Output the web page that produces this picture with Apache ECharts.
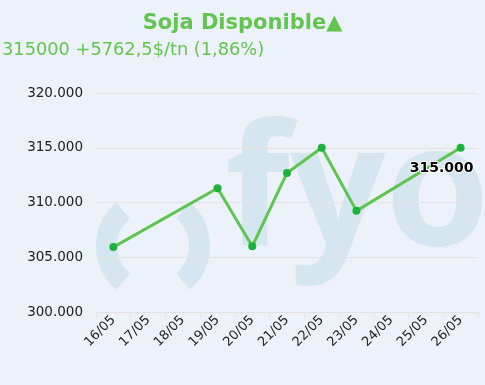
<!DOCTYPE html>
<html><head><meta charset="utf-8">
<script src="https://cdn.jsdelivr.net/npm/echarts@6/dist/echarts.min.js"></script>
<style>html,body{margin:0;padding:0;background:#edf1f9;}#c{width:485px;height:385px;}</style>
</head><body><div id="c"></div>
<script>
var categories = ['16/05','17/05','18/05','19/05','20/05','21/05','22/05','23/05','24/05','25/05','26/05'];
var prices = [305925, null, null, 311300, 306000, 312700, 315000, 309237.5, null, null, 315000];
var titleText = 'Soja Disponible▲';
var subtitleText = '315000 +5762,5$/tn (1,86%)';
var lastLabel = '315.000';

function fmt(v){ return String(v).replace(/\B(?=(\d{3})+(?!\d))/g,'.'); }

var chart = echarts.init(document.getElementById('c'));
var ff = 'DejaVu Sans';
var wm = '#d5e6f0';
chart.setOption({
  backgroundColor: '#edf1f9',
  animation: false,
  title: [
    {text: titleText, left: 'center', top: 8, textStyle:{color:'#62c552', fontSize:21, fontWeight:'bold', fontFamily:ff}},
    {text: subtitleText, left: 2, top: 36, padding: [5,0,5,0], textStyle:{color:'#62c552', fontSize:17.8, fontWeight:'normal', fontFamily:ff}}
  ],
  graphic: [
    {type:'text', z: -1, style:{x: 225, y: 113, text:'fyo', font:'bold 168px "Open Sans"', fill: wm, verticalAlign:'top'}},
    {type:'arc', z: -1, shape:{cx:153, cy:246, r:46.5, startAngle: Math.PI-0.87, endAngle: Math.PI+0.87}, style:{stroke: wm, lineWidth: 21, fill: null}},
    {type:'arc', z: -1, shape:{cx:153, cy:246, r:46.5, startAngle: -0.87, endAngle: 0.87}, style:{stroke: wm, lineWidth: 21, fill: null}}
  ],
  grid: {left: 96, right: 7, top: 93, bottom: 73},
  xAxis: {
    type:'category', data: categories, boundaryGap: true,
    axisLine:{show:true, lineStyle:{color:'#e3e3e3'}},
    axisTick:{show:true, lineStyle:{color:'#e3e3e3'}},
    axisLabel:{rotate:45, color:'#222', fontSize:13, fontFamily:ff, margin:6}
  },
  yAxis: {
    type:'value', min:300000, max:320000, interval:5000,
    axisLine:{show:false}, axisTick:{show:false},
    splitLine:{lineStyle:{color:'#e3e3e3'}},
    axisLabel:{color:'#222', fontSize:13.5, fontFamily:ff, margin:13, formatter: fmt}
  },
  series: [{
    type:'line', data: prices, connectNulls: true,
    lineStyle:{color:'#5ec452', width:3},
    itemStyle:{color:'#1cb33c'},
    symbol:'circle', symbolSize:8, showAllSymbol:true,
    label:{show:true, position:'bottom', distance: 10, offset:[-19,0],
      formatter: function(p){ return p.dataIndex === categories.length-1 ? lastLabel : ''; },
      color:'#000', fontSize:14, fontWeight:'bold', fontFamily:ff, textBorderColor:'#fff', textBorderWidth:2}
  }]
});
</script></body></html>
